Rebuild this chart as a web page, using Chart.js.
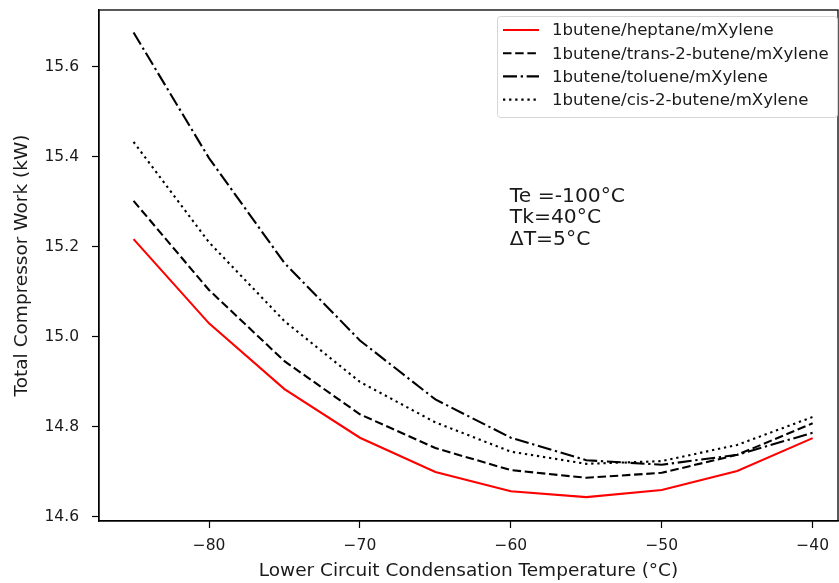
<!DOCTYPE html>
<html>
<head>
<meta charset="utf-8">
<script src="https://cdn.jsdelivr.net/npm/chart.js@4.4.1/dist/chart.umd.min.js"></script>
<style>
  html, body { margin: 0; padding: 0; background: #fff; }
  #wrap { width: 839px; height: 583px; }
</style>
</head>
<body>
<div id="wrap"><canvas id="chart" width="839" height="583"></canvas></div>
<script>
// condensation temperatures (°C)
const temps = [-85, -80, -75, -70, -65, -60, -55, -50, -45, -40];

// total compressor work (kW) per mixture
const heptane = [15.217, 15.030, 14.884, 14.776, 14.700, 14.657, 14.644, 14.660, 14.702, 14.775];
const trans2butene = [15.302, 15.104, 14.946, 14.828, 14.753, 14.704, 14.687, 14.698, 14.738, 14.808];
const toluene = [15.676, 15.397, 15.164, 14.992, 14.861, 14.776, 14.726, 14.716, 14.738, 14.787];
const cis2butene = [15.433, 15.210, 15.035, 14.900, 14.810, 14.745, 14.718, 14.724, 14.760, 14.822];

const seriesLabels = [
  "1butene/heptane/mXylene",
  "1butene/trans-2-butene/mXylene",
  "1butene/toluene/mXylene",
  "1butene/cis-2-butene/mXylene"
];

const xTicks = [-80, -70, -60, -50, -40];
const yTicks = [14.6, 14.8, 15.0, 15.2, 15.4, 15.6];
const noteLines = ["Te =-100°C", "Tk=40°C", "ΔT=5°C"];

const FONT = "'DejaVu Sans', sans-serif";
const TEXT = "#1a1a1a";

function pts(ys) {
  return temps.map((t, i) => ({ x: t, y: ys[i] }));
}

// box around the plot area, like the matplotlib spines
const framePlugin = {
  id: "frame",
  afterDatasetsDraw(chart) {
    const { ctx, chartArea: a } = chart;
    ctx.save();
    ctx.strokeStyle = "#000";
    ctx.lineWidth = 1.3;
    ctx.strokeRect(a.left, a.top, a.right - a.left, a.bottom - a.top);
    ctx.restore();
  }
};

// legend box in the upper right corner
const legendPlugin = {
  id: "boxLegend",
  afterDraw(chart) {
    const { ctx } = chart;
    const x0 = 497, y0 = 16, w = 340, h = 101;
    ctx.save();
    ctx.fillStyle = "rgba(255,255,255,0.8)";
    ctx.strokeStyle = "#d6d6d6";
    ctx.lineWidth = 1;
    ctx.beginPath();
    ctx.roundRect(x0 + 0.5, y0 + 0.5, w, h, 3);
    ctx.fill();
    ctx.stroke();
    ctx.font = "16.6px " + FONT;
    ctx.textBaseline = "middle";
    chart.data.datasets.forEach((ds, i) => {
      const cy = 30 + i * 23.2;
      ctx.strokeStyle = ds.borderColor;
      ctx.lineWidth = ds.borderWidth;
      ctx.setLineDash(ds.borderDash || []);
      ctx.beginPath();
      ctx.moveTo(503, cy);
      ctx.lineTo(539, cy);
      ctx.stroke();
      ctx.setLineDash([]);
      ctx.fillStyle = TEXT;
      ctx.fillText(ds.label, 552, cy + 1);
    });
    ctx.restore();
  }
};

// operating conditions note, anchored in data coordinates
const notePlugin = {
  id: "note",
  afterDraw(chart) {
    const { ctx, scales } = chart;
    const x = scales.x.getPixelForValue(-60);
    const yBase = scales.y.getPixelForValue(15.2) - 2;
    ctx.save();
    ctx.font = "20.3px " + FONT;
    ctx.fillStyle = TEXT;
    ctx.textBaseline = "alphabetic";
    const step = 21.5;
    noteLines.forEach((s, i) => {
      ctx.fillText(s, x - 1, yBase - (noteLines.length - 1 - i) * step);
    });
    ctx.restore();
  }
};

const minus = v => String(v).replace("-", "\u2212");

new Chart(document.getElementById("chart"), {
  type: "line",
  data: {
    datasets: [
      { label: seriesLabels[0], data: pts(heptane), borderColor: "#ff0000", borderWidth: 2.1, borderDash: [] },
      { label: seriesLabels[1], data: pts(trans2butene), borderColor: "#000", borderWidth: 2.1, borderDash: [8.5, 3.7] },
      { label: seriesLabels[2], data: pts(toluene), borderColor: "#000", borderWidth: 2.1, borderDash: [14, 3.7, 2.3, 3.7] },
      { label: seriesLabels[3], data: pts(cis2butene), borderColor: "#000", borderWidth: 2.1, borderDash: [2.3, 3.8] }
    ]
  },
  options: {
    responsive: false,
    animation: false,
    layout: { padding: { top: 10, right: 1, left: 0, bottom: 0 } },
    elements: {
      point: { radius: 0, hoverRadius: 0 },
      line: { tension: 0, borderCapStyle: "butt", fill: false }
    },
    plugins: {
      legend: { display: false },
      tooltip: { enabled: false }
    },
    scales: {
      x: {
        type: "linear",
        min: -87.29,
        max: -38.32,
        afterBuildTicks: s => { s.ticks = xTicks.map(v => ({ value: v })); },
        afterFit: s => { s.height = 62; s.paddingLeft = 0; s.paddingRight = 0; },
        grid: { drawOnChartArea: false, drawTicks: true, tickLength: 7, tickColor: "#000", tickWidth: 1.2 },
        border: { display: true, color: "#000", width: 1.3 },
        ticks: {
          color: TEXT, font: { family: FONT, size: 15.5 }, padding: 9,
          maxRotation: 0, autoSkip: false,
          callback: v => minus(v)
        },
        title: {
          display: true, text: "Lower Circuit Condensation Temperature (°C)",
          color: TEXT, font: { family: FONT, size: 18.5 }, padding: { top: 0, bottom: 1 }
        }
      },
      y: {
        type: "linear",
        min: 14.591,
        max: 15.726,
        afterBuildTicks: s => { s.ticks = yTicks.map(v => ({ value: v })); },
        afterFit: s => { s.width = 99; s.paddingTop = 0; s.paddingBottom = 0; },
        grid: { drawOnChartArea: false, drawTicks: true, tickLength: 7, tickColor: "#000", tickWidth: 1.2 },
        border: { display: true, color: "#000", width: 1.3 },
        ticks: {
          color: TEXT, font: { family: FONT, size: 15.5 }, padding: 13,
          autoSkip: false,
          callback: v => v.toFixed(1)
        },
        title: {
          display: true, text: "Total Compressor Work (kW)",
          color: TEXT, font: { family: FONT, size: 18.5 }, padding: { top: 11, bottom: 0 }
        }
      }
    }
  },
  plugins: [framePlugin, legendPlugin, notePlugin]
});
</script>
</body>
</html>
